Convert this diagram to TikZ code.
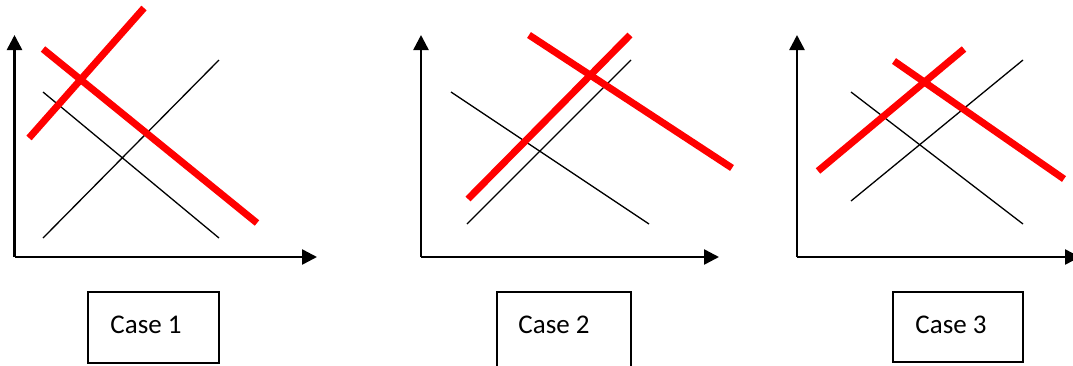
\documentclass[tikz,border=0pt]{standalone}
\usepackage{fontspec}
\setmainfont{Carlito}
\usetikzlibrary{arrows.meta}
\begin{document}
\begin{tikzpicture}[x=1pt,y=-1pt,
  axis/.style={line width=2.5pt,-{Triangle[length=15pt,width=15pt]}},
  thin/.style={line width=1.3pt,black},
  thick red/.style={line width=7pt,red},
  casebox/.style={draw,line width=1.2pt,minimum width=131pt,minimum height=71pt,inner sep=0pt},
  caselabel/.style={inner sep=0pt,font=\fontsize{27}{32}\selectfont}]
\useasboundingbox (0,0) rectangle (1073,365);
% ---- Case 1
\coordinate (o1) at (14.5,257);
\coordinate (y1) at (14.5,35);
\coordinate (x1) at (317,257);
\draw[axis] (o1) -- (y1);
\draw[axis] (o1) -- (x1);
\coordinate (a1s) at (43,238); \coordinate (a1e) at (219,60);
\coordinate (b1s) at (43,92);  \coordinate (b1e) at (219,238);
\coordinate (c1s) at (29,138); \coordinate (c1e) at (144,8);
\coordinate (d1s) at (43,49);  \coordinate (d1e) at (257,223);
\draw[thin] (a1s) -- (a1e);
\draw[thin] (b1s) -- (b1e);
\draw[thick red] (c1s) -- (c1e);
\draw[thick red] (d1s) -- (d1e);
\node[casebox] (box1) at (153.5,327.5) {};
\node[caselabel] (lab1) at (146,325) {Case 1};
% ---- Case 2
\coordinate (o2) at (421,257);
\coordinate (y2) at (421,35);
\coordinate (x2) at (719,257);
\draw[axis] (o2) -- (y2);
\draw[axis] (o2) -- (x2);
\coordinate (a2s) at (467,224); \coordinate (a2e) at (631,60);
\coordinate (b2s) at (451,92);  \coordinate (b2e) at (649,224);
\coordinate (c2s) at (468,199); \coordinate (c2e) at (630,35);
\coordinate (d2s) at (529,35);  \coordinate (d2e) at (732,168);
\draw[thin] (a2s) -- (a2e);
\draw[thin] (b2s) -- (b2e);
\draw[thick red] (c2s) -- (c2e);
\draw[thick red] (d2s) -- (d2e);
\node[casebox,minimum width=134pt,minimum height=80pt] (box2) at (564,332) {};
\node[caselabel] (lab2) at (554,325) {Case 2};
% ---- Case 3
\coordinate (o3) at (797,257);
\coordinate (y3) at (797,35);
\coordinate (x3) at (1080,257);
\draw[axis] (o3) -- (y3);
\draw[axis] (o3) -- (x3);
\coordinate (a3s) at (851,201); \coordinate (a3e) at (1023,60);
\coordinate (b3s) at (851,92);  \coordinate (b3e) at (1023,224);
\coordinate (c3s) at (818,171); \coordinate (c3e) at (964,49);
\coordinate (d3s) at (894,61);  \coordinate (d3e) at (1064,179);
\draw[thin] (a3s) -- (a3e);
\draw[thin] (b3s) -- (b3e);
\draw[thick red] (c3s) -- (c3e);
\draw[thick red] (d3s) -- (d3e);
\node[casebox,minimum width=130pt,minimum height=70pt] (box3) at (958,327) {};
\node[caselabel] (lab3) at (951,325) {Case 3};
\end{tikzpicture}
\end{document}
